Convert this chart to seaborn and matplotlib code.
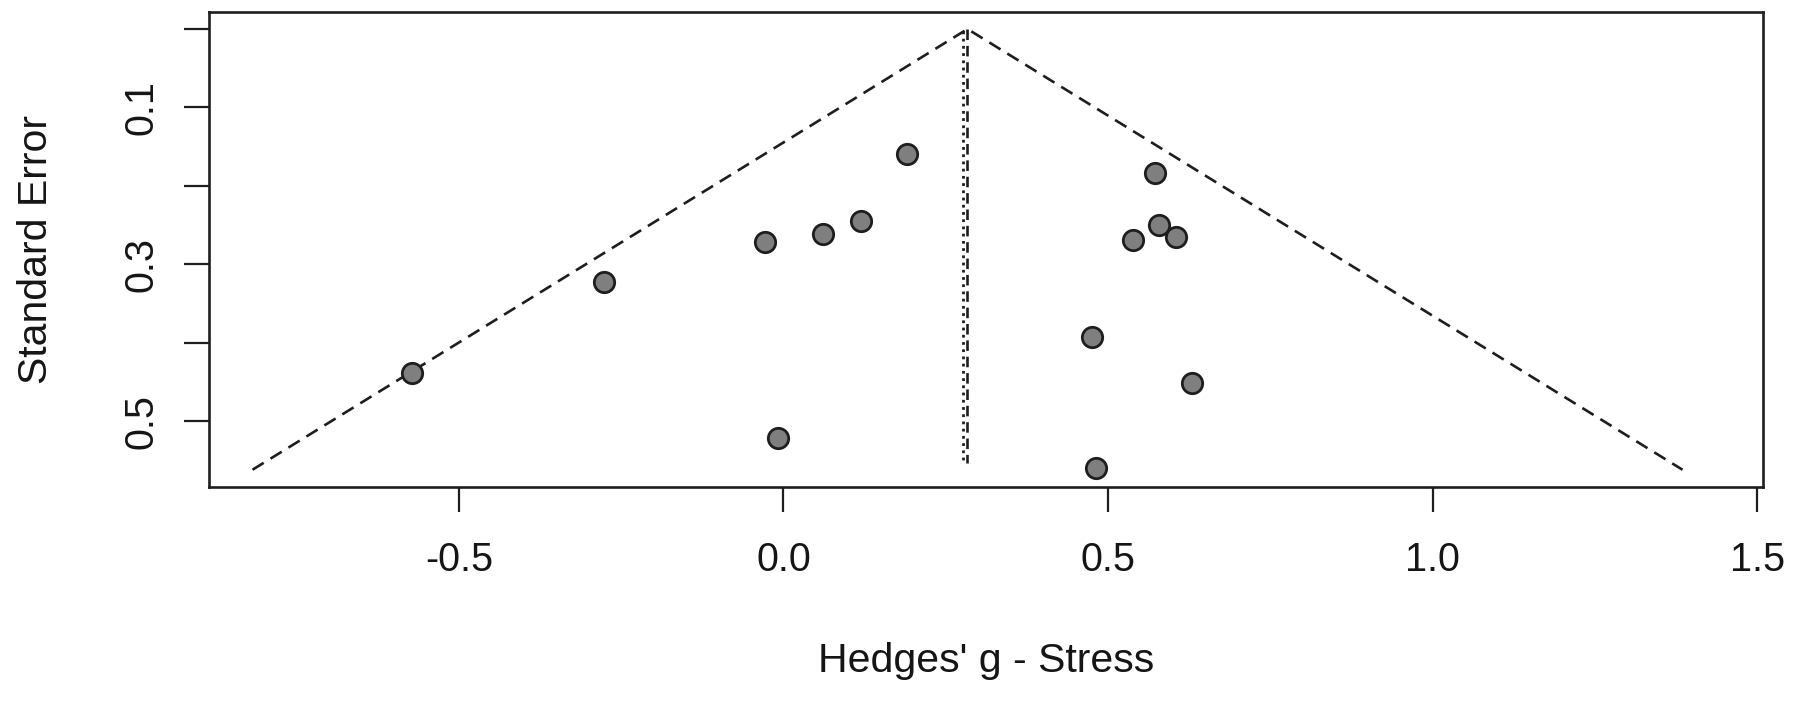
import matplotlib
matplotlib.use("Agg")
import matplotlib.pyplot as plt
import seaborn as sns
import numpy as np
import pandas as pd

# ---- data ----
hedges_g = [-0.572, -0.277, -0.028, 0.061, 0.119, 0.190, -0.009,
            0.572, 0.578, 0.538, 0.605, 0.476, 0.630, 0.481]
std_err = [0.438, 0.322, 0.272, 0.261, 0.245, 0.159, 0.522,
           0.184, 0.250, 0.269, 0.265, 0.393, 0.452, 0.560]
pooled_estimate = 0.2835      # dashed reference line / funnel apex
adjusted_estimate = 0.276     # dotted reference line
se_max = 0.562
x_ticks = [-0.5, 0.0, 0.5, 1.0, 1.5]
x_tick_labels = ["-0.5", "0.0", "0.5", "1.0", "1.5"]
y_ticks = [0.0, 0.1, 0.2, 0.3, 0.4, 0.5]
y_tick_labels = ["", "0.1", "", "0.3", "", "0.5"]
x_label = "Hedges' g - Stress"
y_label = "Standard Error"

sns.set_theme(style="white")
plt.rcParams["font.family"] = ["Liberation Sans", "DejaVu Sans"]

fig = plt.figure(figsize=(18, 7.09), dpi=100)
ax = fig.add_axes([209/1800, 1 - 487/709, (1763-209)/1800, (487-12)/709])

df = pd.DataFrame({"g": hedges_g, "se": std_err})

ink = "#1e1e1e"
# funnel lines
funnel = pd.DataFrame({
    "x": [pooled_estimate - 1.96*se_max, pooled_estimate, pooled_estimate + 1.96*se_max],
    "y": [se_max, 0.0, se_max],
})
ax.plot(funnel["x"], funnel["y"], color=ink, lw=1.9, linestyle=(0, (5.0, 3.0)))
ax.plot([adjusted_estimate, adjusted_estimate], [0.003, se_max - 0.008],
        color=ink, lw=2.0, linestyle=(0, (1, 1.6)))
ax.plot([pooled_estimate, pooled_estimate], [0.0, se_max - 0.008],
        color=ink, lw=1.9, linestyle=(0, (4, 2.2)))

sns.scatterplot(data=df, x="g", y="se", ax=ax, s=215, color="#7f7f7f",
                edgecolor=ink, linewidth=2.0, zorder=5, legend=False)

ax.set_xlim(-0.885, 1.509)
ax.set_ylim(0.584, -0.0217)

ax.set_xticks(x_ticks)
ax.set_xticklabels(x_tick_labels)
ax.set_yticks(y_ticks)
ax.set_yticklabels(y_tick_labels, rotation=90, va="center")

ax.tick_params(axis="both", which="major", direction="out", length=18, width=1.6,
               color=ink, labelsize=28.5, labelcolor="#151515", bottom=True, left=True)
ax.tick_params(axis="x", pad=21)
ax.tick_params(axis="y", pad=17)

for sp in ax.spines.values():
    sp.set_visible(True)
    sp.set_color(ink)
    sp.set_linewidth(1.9)

ax.set_xlabel(x_label, fontsize=29.5, color="#151515")
ax.set_ylabel(y_label, fontsize=29.5, color="#151515")
ax.xaxis.set_label_coords(0.5, (487-661)/475)
ax.yaxis.set_label_coords((36-209)/1554, 0.5)
ax.xaxis.label.set_va("center")
ax.yaxis.label.set_va("center")
ax.grid(False)

fig.savefig("out.png", dpi=100, facecolor="white")
